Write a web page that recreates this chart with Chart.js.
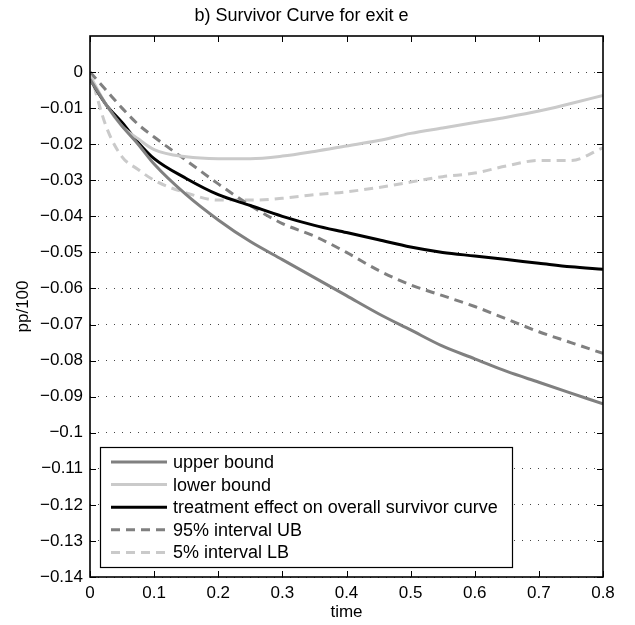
<!DOCTYPE html>
<html>
<head>
<meta charset="utf-8">
<script src="https://cdn.jsdelivr.net/npm/chart.js@4.4.0/dist/chart.umd.min.js"></script>
<style>
  html, body { margin: 0; padding: 0; background: #fff; }
  #wrap { width: 635px; height: 625px; }
</style>
</head>
<body>
<div id="wrap"><canvas id="survChart"></canvas></div>
<script>
// values
const time = [0, 0.025, 0.05, 0.075, 0.1, 0.15, 0.2, 0.25, 0.3, 0.35, 0.4, 0.45, 0.5, 0.55, 0.6, 0.65, 0.7, 0.75, 0.8];
const upperBound = [-0.002, -0.009, -0.015, -0.020, -0.0255, -0.034, -0.041, -0.047, -0.052, -0.057, -0.062, -0.067, -0.0715, -0.076, -0.0795, -0.083, -0.086, -0.089, -0.092];
const lowerBound = [-0.001, -0.009, -0.015, -0.0185, -0.0215, -0.0235, -0.024, -0.024, -0.0233, -0.022, -0.0205, -0.019, -0.017, -0.0155, -0.014, -0.0125, -0.0108, -0.0087, -0.0065];
const treatment = [-0.002, -0.009, -0.014, -0.0195, -0.024, -0.0295, -0.034, -0.037, -0.040, -0.0425, -0.0445, -0.0465, -0.0485, -0.050, -0.051, -0.052, -0.053, -0.054, -0.0547];
const ub95 = [0, -0.005, -0.010, -0.0145, -0.018, -0.0245, -0.031, -0.037, -0.042, -0.0455, -0.050, -0.055, -0.059, -0.062, -0.065, -0.0685, -0.072, -0.075, -0.078];
const lb5 = [0, -0.015, -0.0235, -0.027, -0.030, -0.0335, -0.0355, -0.0355, -0.035, -0.034, -0.0332, -0.032, -0.0305, -0.029, -0.028, -0.026, -0.0245, -0.0245, -0.021];
const seriesNames = ['upper bound', 'lower bound', 'treatment effect on overall survivor curve', '95% interval UB', '5% interval LB'];
const xTicks = [0, 0.1, 0.2, 0.3, 0.4, 0.5, 0.6, 0.7, 0.8];
const yTicks = [0, -0.01, -0.02, -0.03, -0.04, -0.05, -0.06, -0.07, -0.08, -0.09, -0.1, -0.11, -0.12, -0.13, -0.14];

const FONT = '"Liberation Sans", Arial, Helvetica, sans-serif';
const DARK = '#808080';
const LIGHT = '#cacaca';

function pts(ys) {
    return time.map((t, i) => ({ x: t, y: ys[i] }));
}

function fmt(v) {
    const s = String(parseFloat(v.toFixed(3)));
    return s.replace('-', '\u2212');
}

// matlab-ish box, inward ticks and legend inside the axes
const boxPlugin = {
    id: 'boxPlugin',
    afterDraw(chart) {
        const ctx = chart.ctx;
        const a = chart.chartArea;
        const xs = chart.scales.x;
        const ys = chart.scales.y;
        ctx.save();
        ctx.strokeStyle = '#000';
        ctx.lineWidth = 1;
        xTicks.forEach(v => {
            const px = Math.round(xs.getPixelForValue(v)) + 0.5;
            ctx.beginPath();
            ctx.moveTo(px, a.bottom); ctx.lineTo(px, a.bottom - 6);
            ctx.moveTo(px, a.top); ctx.lineTo(px, a.top + 6);
            ctx.stroke();
        });
        yTicks.forEach(v => {
            const py = Math.round(ys.getPixelForValue(v)) + 0.5;
            ctx.beginPath();
            ctx.moveTo(a.left, py); ctx.lineTo(a.left + 6, py);
            ctx.moveTo(a.right, py); ctx.lineTo(a.right - 6, py);
            ctx.stroke();
        });
        ctx.lineWidth = 1.6;
        ctx.strokeRect(a.left, a.top, a.right - a.left, a.bottom - a.top);

        // legend
        const lx = a.left + 10, ly = a.bottom - 130;
        const lw = 412, lh = 120;
        ctx.fillStyle = '#fff';
        ctx.fillRect(lx, ly, lw, lh);
        ctx.lineWidth = 1.2;
        ctx.strokeRect(lx + 0.5, ly + 0.5, lw, lh);
        ctx.font = '18px ' + FONT;
        ctx.textBaseline = 'middle';
        chart.data.datasets.forEach((ds, i) => {
            const ry = ly + 15 + i * 22.6;
            ctx.strokeStyle = ds.borderColor;
            ctx.lineWidth = ds.borderWidth;
            ctx.setLineDash(ds.borderDash || []);
            ctx.beginPath();
            ctx.moveTo(lx + 11, ry); ctx.lineTo(lx + 67, ry);
            ctx.stroke();
            ctx.setLineDash([]);
            ctx.fillStyle = '#000';
            ctx.fillText(ds.label, lx + 73, ry + 1);
        });
        ctx.restore();
    }
};

const ctx = document.getElementById('survChart').getContext('2d');
new Chart(ctx, {
    type: 'line',
    data: {
        datasets: [
            { label: seriesNames[0], data: pts(upperBound), borderColor: DARK, borderWidth: 3 },
            { label: seriesNames[1], data: pts(lowerBound), borderColor: LIGHT, borderWidth: 3 },
            { label: seriesNames[2], data: pts(treatment), borderColor: '#000', borderWidth: 3 },
            { label: seriesNames[3], data: pts(ub95), borderColor: DARK, borderWidth: 3, borderDash: [9, 6] },
            { label: seriesNames[4], data: pts(lb5), borderColor: LIGHT, borderWidth: 3, borderDash: [9, 6] }
        ]
    },
    options: {
        responsive: true,
        maintainAspectRatio: false,
        animation: false,
        layout: { padding: { top: 0, right: 32, left: 0, bottom: 0 } },
        elements: {
            point: { radius: 0 },
            line: { cubicInterpolationMode: 'monotone', fill: false }
        },
        plugins: {
            legend: { display: false },
            tooltip: { enabled: false },
            title: {
                display: true,
                text: 'b) Survivor Curve for exit e',
                color: '#000',
                font: { family: FONT, size: 18, weight: 'normal' },
                padding: { top: 5, bottom: 9.4 }
            }
        },
        scales: {
            x: {
                type: 'linear',
                min: 0,
                max: 0.8,
                afterBuildTicks(scale) { scale.ticks = xTicks.map(v => ({ value: v })); },
                afterFit(scale) { scale.height = 48; },
                grid: { display: false, drawTicks: false },
                border: { display: false },
                ticks: {
                    padding: 6,
                    color: '#000',
                    font: { family: FONT, size: 17 },
                    callback: v => fmt(v)
                },
                title: {
                    display: true,
                    text: 'time',
                    color: '#000',
                    font: { family: FONT, size: 17 },
                    padding: { top: 0, bottom: 2 }
                }
            },
            y: {
                min: -0.14,
                max: 0.01,
                afterBuildTicks(scale) { scale.ticks = yTicks.map(v => ({ value: v })); },
                afterFit(scale) { scale.width = 90; },
                grid: {
                    drawTicks: false,
                    color: '#444',
                    lineWidth: 1
                },
                border: { display: false, dash: [1, 7] },
                ticks: {
                    padding: 7,
                    color: '#000',
                    font: { family: FONT, size: 17 },
                    callback: v => fmt(v)
                },
                title: {
                    display: true,
                    text: 'pp/100',
                    color: '#000',
                    font: { family: FONT, size: 17 },
                    padding: { top: 13, bottom: 0 }
                }
            }
        }
    },
    plugins: [boxPlugin]
});
</script>
</body>
</html>
